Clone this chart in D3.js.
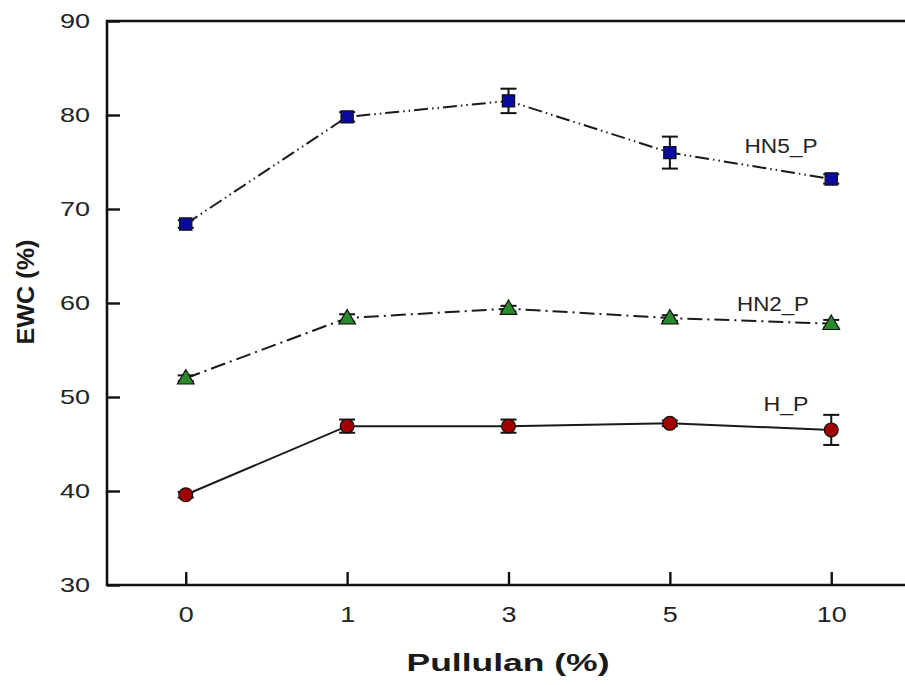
<!DOCTYPE html>
<html>
<head>
<meta charset="utf-8">
<script src="https://cdn.jsdelivr.net/npm/d3@7"></script>
<style>
  html, body { margin: 0; padding: 0; background: #fff; }
  svg { display: block; font-family: "Liberation Sans", Arial, sans-serif; }
</style>
</head>
<body>
<svg id="chart" width="905" height="685"></svg>
<script>
// Pullulan content (%) on the x axis, equilibrium water content on the y axis
const categories = ["0", "1", "3", "5", "10"];

const hn5Values = [68.4, 79.8, 81.5, 76.0, 73.2];
const hn5Errors = [0.4, 0.5, 1.3, 1.7, 0.5];

const hn2Values = [52.0, 58.4, 59.4, 58.4, 57.8];
const hn2Errors = [0.3, 0.4, 0.3, 0.3, 0.4];

const hpValues = [39.6, 46.9, 46.9, 47.2, 46.5];
const hpErrors = [0.3, 0.7, 0.7, 0.3, 1.6];

const yTicks = [30, 40, 50, 60, 70, 80, 90];

const seriesList = [
  { name: "HN5_P", values: hn5Values, errors: hn5Errors, shape: "square",
    fill: "#0a0a9e", dash: "14,4,1.5,4,1.5,4", label: [781, 153, 73] },
  { name: "HN2_P", values: hn2Values, errors: hn2Errors, shape: "triangle",
    fill: "#2a8a2a", dash: "15,5,2,5", label: [773, 311, 72] },
  { name: "H_P", values: hpValues, errors: hpErrors, shape: "circle",
    fill: "#a00000", dash: null, label: [786, 411, 45] }
];

const svg = d3.select("#chart");
const plotLeft = 107, plotRight = 910, plotTop = 21, plotBottom = 585;

const x = d3.scalePoint().domain(categories).range([plotLeft, plotRight]).padding(0.488);
const y = d3.scaleLinear().domain([30, 90]).range([plotBottom, plotTop]);

// Frame (top, left and bottom spines)
svg.append("path")
  .attr("d", `M${plotRight},${plotTop}H${plotLeft}V${plotBottom}H${plotRight}`)
  .attr("stroke", "#111").attr("stroke-width", 2.6).attr("fill", "none");

// Y axis: inward ticks
const yAxis = svg.append("g").attr("transform", `translate(${plotLeft},0)`)
  .call(d3.axisLeft(y).tickValues(yTicks).tickSizeInner(-13).tickSizeOuter(0).tickPadding(17));
yAxis.select(".domain").remove();
yAxis.selectAll(".tick line").attr("stroke", "#111").attr("stroke-width", 2.4);
yAxis.selectAll(".tick text")
  .attr("font-size", 21).attr("fill", "#222")
  .attr("font-family", "'Liberation Sans', Arial, sans-serif")
  .attr("textLength", d => String(d).length * 15).attr("lengthAdjust", "spacingAndGlyphs");

// X axis: inward ticks
const xAxis = svg.append("g").attr("transform", `translate(0,${plotBottom})`)
  .call(d3.axisBottom(x).tickSizeInner(-13).tickSizeOuter(0).tickPadding(21));
xAxis.select(".domain").remove();
xAxis.selectAll(".tick line").attr("stroke", "#111").attr("stroke-width", 2.4);
xAxis.selectAll(".tick text")
  .attr("font-size", 22).attr("fill", "#222")
  .attr("font-family", "'Liberation Sans', Arial, sans-serif")
  .attr("textLength", d => String(d).length * 15).attr("lengthAdjust", "spacingAndGlyphs");

// Axis titles
svg.append("text")
  .attr("x", 508).attr("y", 671).attr("text-anchor", "middle")
  .attr("font-size", 23).attr("font-weight", "bold").attr("fill", "#1a1a1a")
  .attr("textLength", 203).attr("lengthAdjust", "spacingAndGlyphs")
  .text("Pullulan (%)");

svg.append("text")
  .attr("transform", "translate(34,292) rotate(-90)").attr("text-anchor", "middle")
  .attr("font-size", 23).attr("font-weight", "bold").attr("fill", "#1a1a1a")
  .attr("textLength", 105).attr("lengthAdjust", "spacingAndGlyphs")
  .text("EWC (%)");

const line = d3.line().x((d, i) => x(categories[i])).y(d => y(d));

seriesList.forEach(s => {
  const g = svg.append("g");

  g.append("path")
    .datum(s.values)
    .attr("d", line)
    .attr("fill", "none")
    .attr("stroke", "#1a1a1a")
    .attr("stroke-width", 2)
    .attr("stroke-dasharray", s.dash);

  // Error bars with caps
  const eb = g.selectAll(".err").data(s.values).join("g").attr("class", "err")
    .attr("stroke", "#111").attr("stroke-width", 2);
  eb.append("line")
    .attr("x1", (d, i) => x(categories[i])).attr("x2", (d, i) => x(categories[i]))
    .attr("y1", (d, i) => y(d + s.errors[i])).attr("y2", (d, i) => y(d - s.errors[i]));
  [1, -1].forEach(sign => {
    eb.append("line")
      .attr("x1", (d, i) => x(categories[i]) - 8).attr("x2", (d, i) => x(categories[i]) + 8)
      .attr("y1", (d, i) => y(d + sign * s.errors[i])).attr("y2", (d, i) => y(d + sign * s.errors[i]));
  });

  // Markers
  const symType = s.shape === "square" ? d3.symbolSquare
    : s.shape === "triangle" ? d3.symbolTriangle : d3.symbolCircle;
  const symSize = s.shape === "square" ? 150 : s.shape === "triangle" ? 120 : 150;
  g.selectAll(".mk").data(s.values).join("path").attr("class", "mk")
    .attr("transform", (d, i) => `translate(${x(categories[i])},${y(d) + (s.shape === "triangle" ? 1 : 0)})`)
    .attr("d", d3.symbol().type(symType).size(symSize))
    .attr("fill", s.fill).attr("stroke", "#111").attr("stroke-width", 1.2);

  // Series label
  g.append("text")
    .attr("x", s.label[0]).attr("y", s.label[1]).attr("text-anchor", "middle")
    .attr("font-size", 20).attr("fill", "#222")
    .attr("textLength", s.label[2]).attr("lengthAdjust", "spacingAndGlyphs")
    .text(s.name);
});
</script>
</body>
</html>
